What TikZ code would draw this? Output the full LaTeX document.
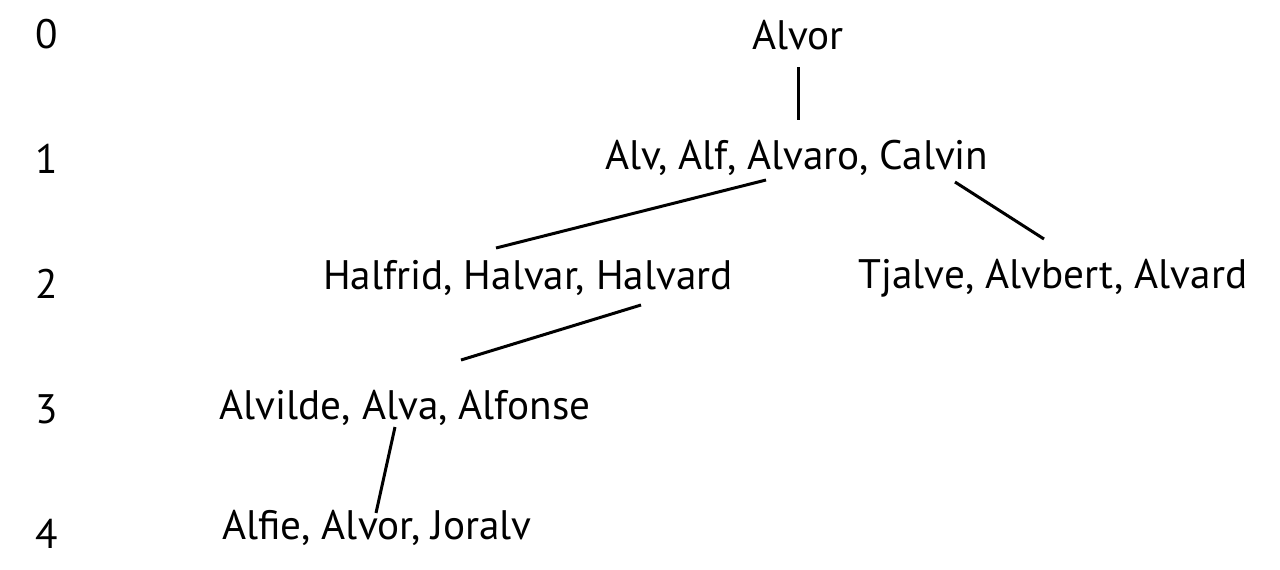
\documentclass[tikz,border=0pt]{standalone}
\usepackage{fontspec}
\setmainfont{PT Sans}
\begin{document}
\begin{tikzpicture}[x=0.5pt,y=-0.5pt,
  lbl/.style={inner sep=0pt,font=\fontsize{20.6}{22}\selectfont},
  edge/.style={line width=1.5pt}]
\useasboundingbox (0,0) rectangle (1280,569);
\node[lbl] (l0) at (47,34) {0};
\node[lbl] (l1) at (47,159) {1};
\node[lbl] (l2) at (47,284) {2};
\node[lbl] (l3) at (47,409) {3};
\node[lbl] (l4) at (47,534) {4};
\node[lbl] (a) at (798,35) {Alvor};
\node[lbl] (b) at (797,158) {Alv, Alf, Alvaro, Calvin};
\node[lbl] (c) at (528,278) {Halfrid, Halvar, Halvard};
\node[lbl] (d) at (1053,278) {Tjalve, Alvbert, Alvard};
\node[lbl] (e) at (405,408) {Alvilde, Alva, Alfonse};
\node[lbl] (f) at (377,528) {Alfie, Alvor, Joralv};
\coordinate (a1) at (798,67); \coordinate (b0) at (798,120);
\coordinate (b1) at (766,180); \coordinate (c0) at (496,248);
\coordinate (b2) at (955,182); \coordinate (d0) at (1044,239);
\coordinate (c1) at (641,305); \coordinate (e0) at (461,360);
\coordinate (e1) at (395,427); \coordinate (f0) at (376,513);
\draw[edge] (a1) -- (b0);
\draw[edge] (b1) -- (c0);
\draw[edge] (b2) -- (d0);
\draw[edge] (c1) -- (e0);
\draw[edge] (e1) -- (f0);
\end{tikzpicture}
\end{document}
